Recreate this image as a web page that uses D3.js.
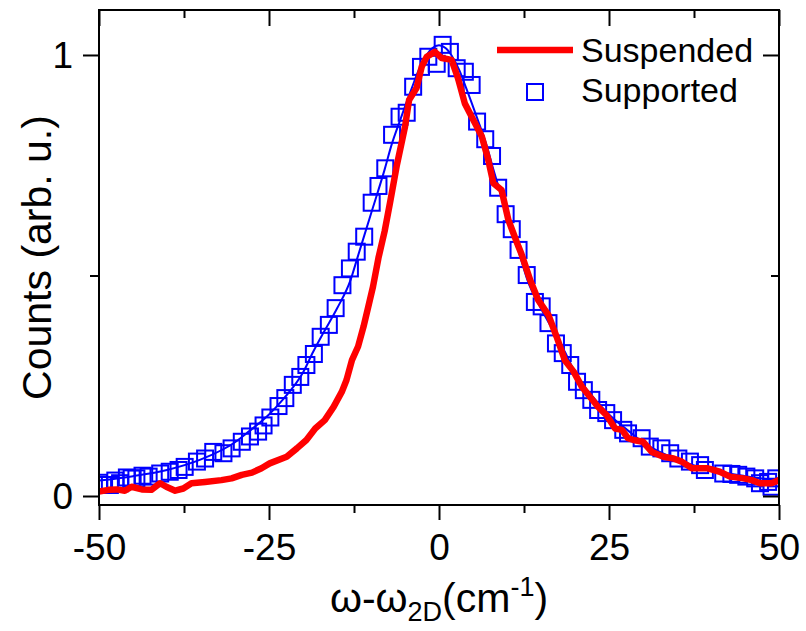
<!DOCTYPE html>
<html>
<head>
<meta charset="utf-8">
<script src="https://cdn.jsdelivr.net/npm/d3@7"></script>
<style>
  html, body { margin: 0; padding: 0; background: #fff; }
  svg { display: block; font-family: "Liberation Sans", Arial, sans-serif; }
</style>
</head>
<body>
<div id="chart"></div>
<script>
// ── data ──────────────────────────────────────────────
// Supported: open squares (x = ω-ω2D, y = normalized counts)
const supportedX = [-50.0, -49.4, -48.4, -47.6, -46.9, -45.9, -45.2, -44.5, -43.6, -42.7, -41.0, -39.6, -38.3, -37.4, -35.6, -34.4, -33.2, -31.7, -30.5, -29.0, -27.8, -26.6, -25.8, -24.8, -23.6, -22.6, -21.5, -20.4, -19.5, -18.4, -17.4, -16.2, -15.2, -14.2, -13.1, -12.1, -11.0, -9.9, -8.9, -7.9, -6.9, -5.8, -4.75, -3.8, -2.65, -1.57, -0.34, 0.54, 1.6, 2.6, 3.8, 4.8, 5.6, 6.8, 7.8, 8.7, 9.8, 10.7, 11.7, 12.9, 14.1, 15.1, 16.1, 17.2, 18.2, 19.3, 20.3, 21.3, 22.4, 23.4, 24.6, 25.6, 27.1, 27.8, 29.8, 31.0, 32.7, 34.0, 35.2, 36.9, 38.4, 39.1, 41.8, 43.0, 44.0, 45.2, 46.5, 47.2, 48.4, 48.9, 49.6];
const supportedY = [0.030, 0.025, 0.025, 0.035, 0.029, 0.042, 0.040, 0.040, 0.046, 0.044, 0.051, 0.055, 0.059, 0.066, 0.078, 0.085, 0.100, 0.097, 0.108, 0.123, 0.135, 0.146, 0.160, 0.178, 0.204, 0.222, 0.252, 0.270, 0.297, 0.322, 0.361, 0.388, 0.426, 0.478, 0.516, 0.554, 0.588, 0.665, 0.703, 0.743, 0.819, 0.860, 0.869, 0.928, 0.973, 0.996, 0.980, 1.023, 1.007, 0.970, 0.962, 0.932, 0.849, 0.809, 0.771, 0.699, 0.639, 0.605, 0.558, 0.501, 0.440, 0.430, 0.392, 0.346, 0.324, 0.297, 0.259, 0.240, 0.218, 0.195, 0.188, 0.172, 0.150, 0.142, 0.131, 0.112, 0.108, 0.097, 0.085, 0.078, 0.070, 0.059, 0.051, 0.050, 0.048, 0.044, 0.040, 0.029, 0.032, 0.021, 0.040];

// Supported: fitted line (thin blue)
const fitX = [-50, -45, -40, -35, -30, -28, -25, -23, -20, -18.5, -17, -15, -13, -12, -10, -8, -7, -5.7, -4, -3, -2, -1, 0, 1, 2, 3, 4, 5.7, 7, 8, 10, 12, 13, 15, 17, 18.5, 20, 23, 25, 28, 30, 35, 40, 45, 50];
const fitY = [0.035, 0.045, 0.059, 0.083, 0.122, 0.146, 0.185, 0.218, 0.280, 0.327, 0.370, 0.425, 0.490, 0.540, 0.640, 0.740, 0.795, 0.853, 0.925, 0.965, 0.995, 1.015, 1.022, 1.015, 0.995, 0.965, 0.925, 0.853, 0.795, 0.740, 0.640, 0.540, 0.490, 0.425, 0.370, 0.327, 0.280, 0.218, 0.185, 0.146, 0.122, 0.083, 0.059, 0.045, 0.035];

// Suspended: thick red line
const suspendedX = [-50.0, -48.6, -47.4, -46.2, -45.2, -43.7, -42.3, -41.0, -40.1, -38.8, -37.6, -36.4, -34.4, -32.0, -30.5, -29.0, -27.5, -26.1, -24.9, -22.4, -20.9, -19.5, -18.2, -16.8, -15.5, -14.3, -13.6, -12.8, -11.9, -11.1, -10.4, -9.7, -8.9, -8.0, -7.2, -6.2, -5.0, -4.4, -3.3, -2.55, -1.8, -0.6, 0.4, 1.85, 2.8, 3.8, 5.3, 6.3, 7.25, 8.0, 9.2, 10.2, 11.7, 12.1, 13.4, 14.6, 16.1, 17.3, 18.5, 19.8, 21.0, 22.2, 23.4, 24.6, 25.9, 26.9, 27.8, 28.6, 30.0, 31.3, 33.0, 34.5, 35.7, 37.2, 39.4, 41.3, 42.8, 44.8, 46.0, 47.2, 48.9, 50.0];
const suspendedY = [0.010, 0.014, 0.015, 0.012, 0.021, 0.015, 0.014, 0.029, 0.021, 0.012, 0.017, 0.029, 0.032, 0.036, 0.040, 0.048, 0.053, 0.063, 0.074, 0.089, 0.108, 0.127, 0.153, 0.172, 0.202, 0.236, 0.263, 0.308, 0.339, 0.384, 0.429, 0.475, 0.540, 0.600, 0.665, 0.750, 0.837, 0.898, 0.925, 0.973, 0.996, 1.007, 0.993, 0.989, 0.947, 0.890, 0.845, 0.815, 0.762, 0.709, 0.694, 0.626, 0.565, 0.550, 0.490, 0.444, 0.410, 0.361, 0.308, 0.282, 0.248, 0.225, 0.202, 0.184, 0.153, 0.150, 0.131, 0.127, 0.123, 0.100, 0.089, 0.085, 0.078, 0.063, 0.063, 0.055, 0.044, 0.040, 0.036, 0.029, 0.029, 0.036];

// axes ticks
const xMajorTicks = [-50, -25, 0, 25, 50];
const xMinorTicks = [-37.5, -12.5, 12.5, 37.5];
const yMajorTicks = [0, 1];
const yMinorTicks = [0.5];

const legendLabels = ["Suspended", "Supported"];

// ── layout ────────────────────────────────────────────
const width = 806;
const height = 631;
const margin = { top: 10, right: 27, bottom: 126, left: 99 };
const plotW = width - margin.left - margin.right;
const plotH = height - margin.top - margin.bottom;

const RED = "#ff0000";
const BLUE = "#0000ff";

const x = d3.scaleLinear().domain([-50, 50]).range([0, plotW]);
const y = d3.scaleLinear().domain([-0.0204, 1.102]).range([plotH, 0]);

// 하이픈 마이너스 (d3 기본은 U+2212)
const fmt = (d) => String(d);

const svg = d3.select("#chart")
  .append("svg")
  .attr("width", width)
  .attr("height", height);

svg.append("defs").append("clipPath")
  .attr("id", "plot-clip")
  .append("rect")
  .attr("width", plotW)
  .attr("height", plotH);

const g = svg.append("g")
  .attr("transform", `translate(${margin.left},${margin.top})`);

const plot = g.append("g").attr("clip-path", "url(#plot-clip)");

// 사각형 마커 (Supported)
const sq = 16;
const supported = supportedX.map((v, i) => ({ x: v, y: supportedY[i] }));
plot.selectAll(".sq")
  .data(supported)
  .join("rect")
  .attr("class", "sq")
  .attr("x", (d) => x(d.x) - sq / 2)
  .attr("y", (d) => y(d.y) - sq / 2)
  .attr("width", sq)
  .attr("height", sq)
  .attr("fill", "none")
  .attr("stroke", BLUE)
  .attr("stroke-width", 2);

// fit line
const fit = fitX.map((v, i) => ({ x: v, y: fitY[i] }));
const line = d3.line().x((d) => x(d.x)).y((d) => y(d.y)).curve(d3.curveMonotoneX);
plot.append("path")
  .datum(fit)
  .attr("d", line)
  .attr("fill", "none")
  .attr("stroke", BLUE)
  .attr("stroke-width", 2);

// Suspended
const suspended = suspendedX.map((v, i) => ({ x: v, y: suspendedY[i] }));
plot.append("path")
  .datum(suspended)
  .attr("d", d3.line().x((d) => x(d.x)).y((d) => y(d.y)))
  .attr("fill", "none")
  .attr("stroke", RED)
  .attr("stroke-width", 6.5)
  .attr("stroke-linejoin", "round")
  .attr("stroke-linecap", "round");

// ── axes ──────────────────────────────────────────────
function styleAxis(sel) {
  sel.select(".domain").remove();
  sel.selectAll(".tick line").attr("stroke", "#000").attr("stroke-width", 2);
  sel.selectAll(".tick text")
    .attr("fill", "#000")
    .attr("font-size", "37px");
}

const xBottom = g.append("g")
  .attr("transform", `translate(0,${plotH})`)
  .call(d3.axisBottom(x).tickValues(xMajorTicks).tickSize(15).tickPadding(14).tickFormat(fmt));
styleAxis(xBottom);
xBottom.selectAll(".tick text").attr("dy", "0.71em");

g.append("g")
  .attr("transform", `translate(0,${plotH})`)
  .call(d3.axisBottom(x).tickValues(xMinorTicks).tickSize(8).tickFormat(""))
  .call(styleAxis);

g.append("g")
  .call(d3.axisBottom(x).tickValues(xMajorTicks).tickSize(16).tickFormat(""))
  .call(styleAxis);
g.append("g")
  .call(d3.axisBottom(x).tickValues(xMinorTicks).tickSize(8).tickFormat(""))
  .call(styleAxis);

const yLeft = g.append("g")
  .call(d3.axisLeft(y).tickValues(yMajorTicks).tickSize(16).tickPadding(10).tickFormat(fmt));
styleAxis(yLeft);
yLeft.selectAll(".tick text").attr("dy", "0.34em");

g.append("g")
  .call(d3.axisLeft(y).tickValues(yMinorTicks).tickSize(9).tickFormat(""))
  .call(styleAxis);

g.append("g")
  .attr("transform", `translate(${plotW},0)`)
  .call(d3.axisLeft(y).tickValues(yMajorTicks).tickSize(16).tickFormat(""))
  .call(styleAxis);
g.append("g")
  .attr("transform", `translate(${plotW},0)`)
  .call(d3.axisLeft(y).tickValues(yMinorTicks).tickSize(8).tickFormat(""))
  .call(styleAxis);

// frame
g.append("rect")
  .attr("width", plotW)
  .attr("height", plotH)
  .attr("fill", "none")
  .attr("stroke", "#000")
  .attr("stroke-width", 2);

// ── axis titles ───────────────────────────────────────
const xTitle = svg.append("text")
  .attr("x", margin.left + plotW / 2)
  .attr("y", 612)
  .attr("text-anchor", "middle")
  .attr("font-size", "41px")
  .attr("fill", "#000");
xTitle.append("tspan").text("ω-ω");
xTitle.append("tspan").attr("font-size", "27px").attr("dy", 9).text("2D");
xTitle.append("tspan").attr("dy", -9).text("(cm");
xTitle.append("tspan").attr("font-size", "27px").attr("dy", -16).text("-1");
xTitle.append("tspan").attr("dy", 16).text(")");

svg.append("text")
  .attr("transform", `translate(51,${margin.top + plotH / 2}) rotate(-90)`)
  .attr("text-anchor", "middle")
  .attr("font-size", "41px")
  .attr("fill", "#000")
  .text("Counts (arb. u.)");

// ── legend ────────────────────────────────────────────
const legend = svg.append("g");
legend.append("line")
  .attr("x1", 497).attr("x2", 573)
  .attr("y1", 50).attr("y2", 50)
  .attr("stroke", RED)
  .attr("stroke-width", 6.5);
legend.append("rect")
  .attr("x", 535 - sq / 2).attr("y", 92 - sq / 2)
  .attr("width", sq).attr("height", sq)
  .attr("fill", "none")
  .attr("stroke", BLUE)
  .attr("stroke-width", 2);
legend.selectAll(".lbl")
  .data(legendLabels)
  .join("text")
  .attr("class", "lbl")
  .attr("x", 581)
  .attr("y", (d, i) => 62 + i * 40)
  .attr("font-size", "34px")
  .attr("fill", "#000")
  .text((d) => d);
</script>
</body>
</html>
